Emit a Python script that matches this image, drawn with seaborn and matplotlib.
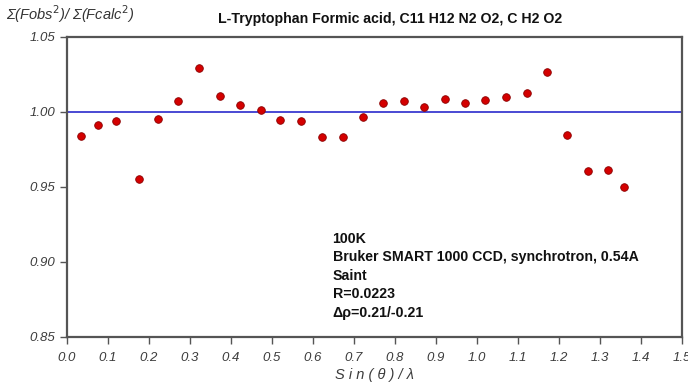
import matplotlib
matplotlib.use("Agg")
import matplotlib.pyplot as plt
import seaborn as sns
import pandas as pd

# Resolution shells: sin(theta)/lambda and the ratio sum(Fobs^2)/sum(Fcalc^2)
sin_theta_lambda = [0.033, 0.076, 0.120, 0.176, 0.221, 0.272, 0.322, 0.373, 0.422, 0.473,
                    0.520, 0.572, 0.622, 0.673, 0.722, 0.772, 0.821, 0.872, 0.922, 0.972,
                    1.021, 1.071, 1.122, 1.172, 1.220, 1.270, 1.319, 1.359]
fobs_fcalc_ratio = [0.984, 0.9915, 0.994, 0.955, 0.995, 1.007, 1.029, 1.0105, 1.0045, 1.0013,
                    0.9945, 0.9938, 0.983, 0.983, 0.9967, 1.0058, 1.007, 1.0036, 1.0084, 1.0062,
                    1.0078, 1.010, 1.0127, 1.0267, 0.9847, 0.9605, 0.961, 0.950]

x_ticks = [0.0, 0.1, 0.2, 0.3, 0.4, 0.5, 0.6, 0.7, 0.8, 0.9, 1.0, 1.1, 1.2, 1.3, 1.4, 1.5]
y_ticks = [0.85, 0.90, 0.95, 1.00, 1.05]

title = "L-Tryptophan Formic acid, C11 H12 N2 O2, C H2 O2"
info_lines = ["100K", "Bruker SMART 1000 CCD, synchrotron, 0.54A", "Saint",
              "R=0.0223", "\u0394\u03c1=0.21/-0.21"]

df = pd.DataFrame({"s": sin_theta_lambda, "ratio": fobs_fcalc_ratio})

sns.set_theme(style="white")
plt.rcParams["font.family"] = ["Liberation Sans", "DejaVu Sans"]

fig = plt.figure(figsize=(6.88, 3.85), dpi=100)
ax = fig.add_axes([0.0974, 0.1247, 0.8936, 0.7793])

ax.axhline(1.0, color="#3a3ad0", lw=1.3, zorder=1)
sns.scatterplot(data=df, x="s", y="ratio", ax=ax, color="#d40000",
                edgecolor="#8a0000", linewidth=0.6, s=30, zorder=3, legend=False)

ax.set_xlim(0.0, 1.5)
ax.set_ylim(0.85, 1.05)
ax.set_xticks(x_ticks)
ax.set_xticklabels([f"{v:.1f}" for v in x_ticks])
ax.set_yticks(y_ticks)
ax.set_yticklabels([f"{v:.2f}" for v in y_ticks])

for sp in ax.spines.values():
    sp.set_color("#555555")
    sp.set_linewidth(1.6)

ax.tick_params(axis="both", which="major", direction="out", length=5, width=1,
               color="#555555", labelcolor="#3c3c3c", labelsize=9.5, bottom=True, left=True)
for lab in ax.get_xticklabels() + ax.get_yticklabels():
    lab.set_fontstyle("italic")
ax.tick_params(axis="x", pad=6)

ax.set_xlabel("S i n ( \u03b8 ) / \u03bb", fontsize=10.5, fontstyle="italic",
              color="#3c3c3c", labelpad=3)
ax.set_ylabel("")

fig.text(0.008, 0.935, "\u03a3(Fobs$^{2}$)/ \u03a3(Fcalc$^{2}$)", fontsize=10.5,
         fontstyle="italic", color="#333333", ha="left", va="bottom")
fig.text(0.567, 0.933, title, fontsize=10.2, fontweight="bold", color="#111111",
         ha="center", va="bottom")

ax.text(0.432, 0.35, "\n".join(info_lines), transform=ax.transAxes, fontsize=10.2,
        fontweight="bold", color="#111111", ha="left", va="top", linespacing=1.4)

fig.savefig("out.png", dpi=100)
